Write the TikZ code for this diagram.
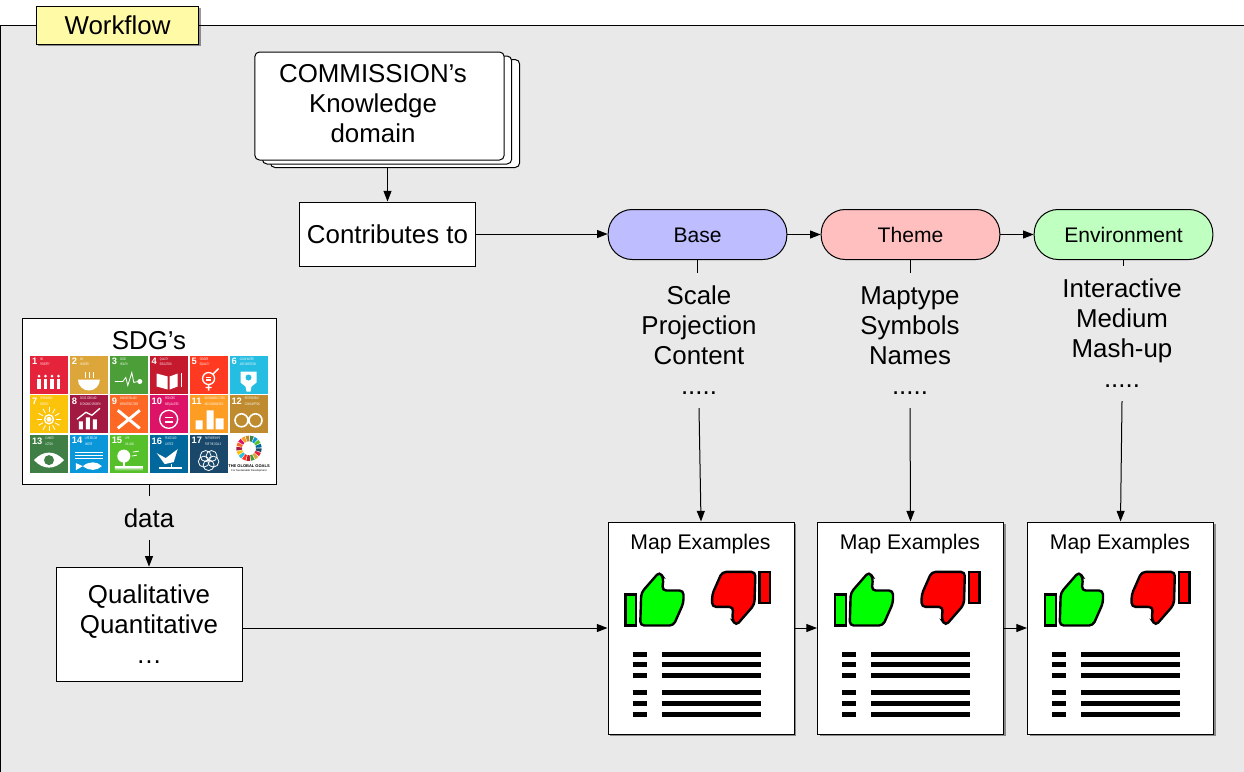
\documentclass[tikz,border=0pt]{standalone}
\usepackage{fontspec}
\setmainfont{Liberation Sans}
\usetikzlibrary{arrows.meta,shadows}
\definecolor{sdg1}{HTML}{E5243B}
\definecolor{sdg2}{HTML}{DDA63A}
\definecolor{sdg3}{HTML}{4C9F38}
\definecolor{sdg4}{HTML}{C5192D}
\definecolor{sdg5}{HTML}{FF3A21}
\definecolor{sdg6}{HTML}{26BDE2}
\definecolor{sdg7}{HTML}{FCC30B}
\definecolor{sdg8}{HTML}{A21942}
\definecolor{sdg9}{HTML}{FD6925}
\definecolor{sdg10}{HTML}{DD1367}
\definecolor{sdg11}{HTML}{FD9D24}
\definecolor{sdg12}{HTML}{BF8B2E}
\definecolor{sdg13}{HTML}{3F7E44}
\definecolor{sdg14}{HTML}{0A97D9}
\definecolor{sdg15}{HTML}{56C02B}
\definecolor{sdg16}{HTML}{00689D}
\definecolor{sdg17}{HTML}{19486A}
\definecolor{panelgrey}{HTML}{E9E9E9}
\tikzset{
  plain/.style={draw=black,fill=white,line width=.75pt,align=center,inner sep=0pt},
  shade/.style={drop shadow={shadow xshift=1.5pt,shadow yshift=-1.5pt,opacity=.4,fill=black}},
  big/.style={font=\fontsize{19.4}{22.5}\selectfont},
  pill/.style={draw=black,rounded corners=18pt,line width=.75pt,minimum width=134pt,minimum height=37.5pt,text height=11.5pt,text depth=0pt,font=\fontsize{15.8}{18}\selectfont},
  sheet/.style={plain,rounded corners=3.5pt,minimum width=187pt,minimum height=81pt},
  mapbox/.style={plain,shade,minimum width=139.5pt,minimum height=159pt},
  link/.style={line width=.75pt,-{Triangle[length=8pt,width=6pt]}},
  tile/.style={minimum size=28.5pt,inner sep=0pt},
  tilenum/.style={white,inner sep=0pt,font=\fontsize{7}{7}\selectfont\bfseries},
  tilelab/.style={white,inner sep=0pt,align=left,transform shape,xscale=.55,font=\fontsize{2.7}{4}\selectfont},
  icon/.style={shift={(#1)},draw=white,fill=white,line width=.6pt},
  mapicons/.pic={
    \node[font=\fontsize{15.9}{18}\selectfont,inner sep=0pt] (title) at (93,23) {Map Examples};
    \draw[fill=green,line width=1.8pt] (18,73) rectangle (28.7,104);
    \draw[fill=green,line width=1.8pt,rounded corners=3pt] (33.7,71.3) -- (52,50.3) -- (56,56.3) -- (54.7,69) -- (76,69) -- (76,81.3) -- (66,104) -- (32.7,104) -- cycle;
    \begin{scope}[rotate around={180:(90.3,77.2)}]
      \draw[fill=red,line width=1.8pt] (18,73) rectangle (28.7,104);
      \draw[fill=red,line width=1.8pt,rounded corners=3pt] (33.7,71.3) -- (52,50.3) -- (56,56.3) -- (54.7,69) -- (76,69) -- (76,81.3) -- (66,104) -- (32.7,104) -- cycle;
    \end{scope}
    \foreach \ypos in {132.7,143.3,153.9,171.3,182,192.7} {
      \draw[line width=4pt] (25,\ypos) -- (39,\ypos);
      \draw[line width=4pt] (54,\ypos) -- (153,\ypos);
    }
  }
}
\begin{document}
\begin{tikzpicture}[x=.75pt,y=-.75pt]
\useasboundingbox (0,0) rectangle (1244,771);
\fill[white] (0,0) rectangle (1244,771);
\draw[fill=panelgrey,line width=.75pt] (.6,790) -- (.6,25.5) -- (1260,25.5) -- (1260,790) -- cycle;

\node[plain,shade,fill=yellow!35,minimum width=122pt,minimum height=28.5pt,big] (tab) at (117.5,25) {Workflow};

\node[sheet] (stackc) at (395,113.5) {};
\node[sheet] (stackb) at (387,110) {};
\node[sheet] (stacka) at (379.5,106) {};
\node[big,align=center,inner sep=0pt] (stacktext) at (373,104) {COMMISSION’s\\Knowledge\\domain};
\node[plain,big,minimum width=131.5pt,minimum height=48pt] (contrib) at (387.5,234) {Contributes to};

\node[pill,fill={rgb,255:red,189;green,189;blue,255}] (base) at (697.5,234.5) {Base};
\node[pill,fill={rgb,255:red,255;green,191;blue,191}] (theme) at (910.5,234.5) {Theme};
\node[pill,fill={rgb,255:red,191;green,255;blue,191}] (env) at (1123.5,234.5) {Environment};

\node[big,align=center,inner sep=0pt,minimum height=101pt] (scale) at (699,340.5) {Scale\\Projection\\Content\\.....};
\node[big,align=center,inner sep=0pt,minimum height=101pt] (maptype) at (910,340.5) {Maptype\\Symbols\\Names\\.....};
\node[big,align=center,inner sep=0pt,minimum height=101pt] (inter) at (1122,333.5) {Interactive\\Medium\\Mash-up\\.....};

\node[mapbox] (mapa) at (701,628) {};
\node[mapbox] (mapb) at (910.5,628) {};
\node[mapbox] (mapc) at (1120.5,628) {};
\pic (iconsa) at (mapa.north west) {mapicons};
\pic (iconsb) at (mapb.north west) {mapicons};
\pic (iconsc) at (mapc.north west) {mapicons};

\node[plain,minimum width=190.5pt,minimum height=124.5pt] (sdg) at (149,401) {};
\node[big,inner sep=0pt] (sdgtitle) at (149,341) {SDG’s};
\foreach \n/\lab in {1/{NO\\POVERTY},2/{NO\\HUNGER},3/{GOOD\\HEALTH},4/{QUALITY\\EDUCATION},5/{GENDER\\EQUALITY},6/{CLEAN WATER\\AND SANITATION},7/{RENEWABLE\\ENERGY},8/{GOOD JOBS AND\\ECONOMIC GROWTH},9/{INNOVATION AND\\INFRASTRUCTURE},10/{REDUCED\\INEQUALITIES},11/{SUSTAINABLE CITIES\\AND COMMUNITIES},12/{RESPONSIBLE\\CONSUMPTION},13/{CLIMATE\\ACTION},14/{LIFE BELOW\\WATER},15/{LIFE\\ON LAND},16/{PEACE AND\\JUSTICE},17/{PARTNERSHIPS\\FOR THE GOALS}} {
  \pgfmathsetmacro\tilex{49+39.9*mod(\n-1,6)}
  \pgfmathsetmacro\tiley{374.5+39.8*int((\n-1)/6)}
  \node[tile,fill=sdg\n] (tile\n) at (\tilex,\tiley) {};
  \node[tilenum,anchor=north west] (num\n) at ([xshift=1.5pt,yshift=-1.8pt]tile\n.north west) {\n};
  \node[tilelab,anchor=north west] (lab\n) at ([xshift=2pt,yshift=.2pt]num\n.north east) {\lab};
}
\begin{scope}[icon=tile1.center]
  \foreach \i in {-10,-3.5,3,9.5} {
    \fill (\i,1.5) circle (1.5);
    \fill (\i-1.6,4) rectangle (\i+1.6,14);
  }
\end{scope}
\begin{scope}[icon=tile2.center]
  \fill (-11,5) -- (11,5) arc[start angle=0,end angle=180,radius=11] -- cycle;
  \foreach \i in {-4,0,4} \draw (\i,3) -- (\i,-3);
\end{scope}
\begin{scope}[icon=tile3.center]
  \draw[fill=none] (-14,7) -- (-6,7) -- (-3,3) -- (-1,11) -- (3,-2) -- (5,8) -- (9,7);
  \fill (11,7) circle (2.5);
\end{scope}
\begin{scope}[icon=tile4.center]
  \fill (-12,-1) -- (-1,2) -- (-1,15) -- (-12,12) -- cycle;
  \fill (1,2) -- (9,-1) -- (9,12) -- (1,15) -- cycle;
  \fill (12,-2) rectangle (13.5,12);
\end{scope}
\begin{scope}[icon=tile5.center]
  \draw[fill=none,line width=1pt] (0,4) circle (6);
  \draw[line width=1pt] (4,0) -- (10,-6) (0,10) -- (0,16) (-3,13) -- (3,13);
  \draw[line width=.8pt] (-2.5,3) -- (2.5,3) (-2.5,5.5) -- (2.5,5.5);
\end{scope}
\begin{scope}[icon=tile6.center]
  \fill (-8,-3) -- (8,-3) -- (8,8) -- (3,12) -- (2,17) -- (-2,17) -- (-3,12) -- (-8,8) -- cycle;
  \fill[sdg6] (0,3) circle (3);
\end{scope}
\begin{scope}[icon=tile7.center]
  \draw[fill=none,line width=1pt] (0,5) circle (4.5);
  \fill (0,5) circle (2.5);
  \foreach \a in {0,30,...,330} \draw ([shift={(\a:7)}]0,5) -- ([shift={(\a:12)}]0,5);
\end{scope}
\begin{scope}[icon=tile8.center]
  \fill (-10,7) rectangle (-6,15) (-3,3) rectangle (1,15) (4,5) rectangle (8,15);
  \draw[line width=1pt] (-12,5) -- (-3,-2) -- (3,1) -- (11,-6);
\end{scope}
\begin{scope}[icon=tile9.center]
  \draw[line width=2.2pt] (-11,-4) -- (11,14) (11,-4) -- (-11,14);
\end{scope}
\begin{scope}[icon=tile10.center]
  \draw[fill=none,line width=1pt] (0,5) circle (9);
  \draw[line width=1.2pt] (-4,3) -- (4,3) (-4,7.5) -- (4,7.5);
\end{scope}
\begin{scope}[icon=tile11.center]
  \fill (-2,-4) rectangle (5,15) (-13,6) rectangle (-6,15) (7,4) rectangle (15,15);
\end{scope}
\begin{scope}[icon=tile12.center]
  \draw[fill=none,line width=1.2pt] (-7,6) circle (6.5) (7,6) circle (6.5);
\end{scope}
\begin{scope}[icon=tile13.center]
  \fill (-15,6) .. controls (-6,-4) and (6,-4) .. (15,6) .. controls (6,16) and (-6,16) .. (-15,6) -- cycle;
  \fill[sdg13] (0,6) circle (5);
\end{scope}
\begin{scope}[icon=tile14.center]
  \foreach \ypos in {-2,1,4} \draw[line width=.5pt] (-14,\ypos) -- (14,\ypos);
  \fill (-13,9) -- (-6,12) .. controls (0,7) and (8,7) .. (13,12) .. controls (8,17) and (0,17) .. (-6,12) -- (-13,16) -- cycle;
\end{scope}
\begin{scope}[icon=tile15.center]
  \fill (-5,2) circle (6.5);
  \fill (-6,6) rectangle (-4,12);
  \fill (-14,12) rectangle (14,14.5) (-14,15.5) rectangle (14,16);
  \draw (4,-2) -- (10,-3) (3,2) -- (8,1);
\end{scope}
\begin{scope}[icon=tile16.center]
  \fill (-12,-1) -- (-3,4) -- (9,-5) -- (5,8) -- (-4,10) -- cycle;
  \draw[line width=1pt] (-10,14) -- (13,14) (3,10) -- (3,14);
\end{scope}
\begin{scope}[icon=tile17.center]
  \foreach \a in {90,162,234,306,18} \draw[fill=none,line width=.6pt] ([shift={(\a:5)}]0,6) circle (5.5);
\end{scope}
\foreach \i in {1,...,17}
  \fill[sdg\i] ({249+7*cos(\i*21.18)},{448.3+7*sin(\i*21.18)}) arc[start angle=\i*21.18,end angle=\i*21.18+17,radius=7] -- ({249+12.7*cos(\i*21.18+17)},{448.3+12.7*sin(\i*21.18+17)}) arc[start angle=\i*21.18+17,end angle=\i*21.18,radius=12.7] -- cycle;
\node[inner sep=0pt,font=\fontsize{3}{4}\selectfont\bfseries] (goals) at (249,466) {THE GLOBAL GOALS};
\node[inner sep=0pt,font=\fontsize{2}{3}\selectfont] (goalsub) at (249,471) {For Sustainable Development};

\node[big,inner sep=0pt,minimum height=33pt] (data) at (149,518) {data};
\node[plain,big,minimum width=139.5pt,minimum height=86pt] (quant) at (149,624.5) {Qualitative\\Quantitative\\…};

\draw[link] (stackc.south -| contrib) -- (contrib.north);
\draw[link] (contrib.east) -- (base.west |- contrib.east);
\draw[link] (base.east) -- (theme.west);
\draw[link] (theme.east) -- (env.west);
\draw[line width=.75pt] (base.south) -- (base.south |- 0,273);
\draw[line width=.75pt] (theme.south) -- (theme.south |- 0,273);
\draw[line width=.75pt] (env.south) -- (env.south |- 0,266);
\draw[link] (scale.south) -- (mapa.north);
\draw[link] (maptype.south) -- (mapb.north);
\draw[link] (inter.south) -- (mapc.north);
\draw[line width=.75pt] (sdg.south) -- (data.north);
\draw[link] (data.south) -- (quant.north);
\draw[link] (quant.east |- mapa.west) -- (mapa.west);
\draw[link] (mapa.east) -- (mapb.west);
\draw[link] (mapb.east) -- (mapc.west);
\end{tikzpicture}
\end{document}
